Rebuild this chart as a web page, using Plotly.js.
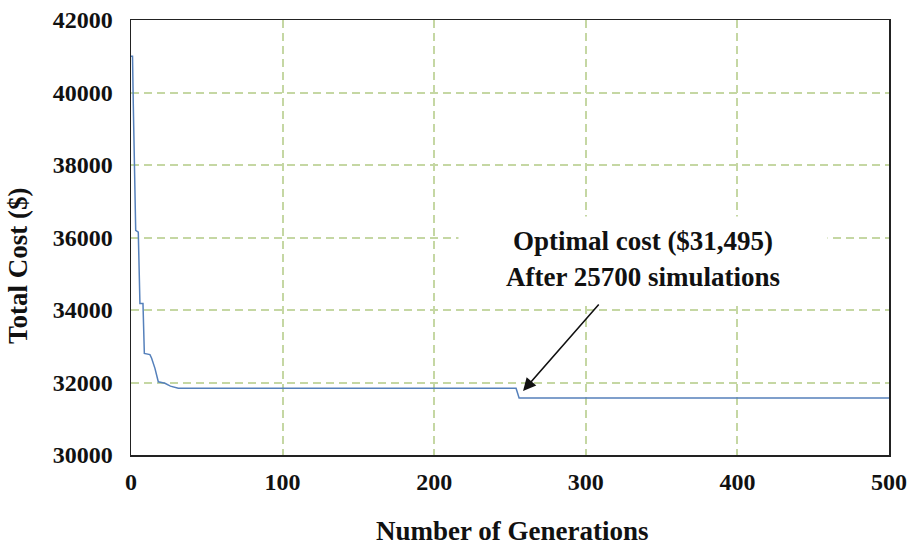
<!DOCTYPE html>
<html>
<head>
<meta charset="utf-8">
<script src="https://cdn.plot.ly/plotly-3.0.1.min.js"></script>
<style>html,body{margin:0;padding:0;background:#fff;}#chart{width:911px;height:545px;}</style>
</head>
<body>
<div id="chart"></div>
<script>
// Data
const generations = [0, 1, 1.5, 2, 2.5, 3.1, 4.8, 5.9, 7.9, 8.8, 12.5, 13.6, 15.8, 18, 22.4, 26, 31.2, 254, 256, 500];
const totalCost   = [41000, 41000, 39700, 38300, 37200, 36200, 36150, 34180, 34180, 32800, 32770, 32670, 32390, 32020, 31980, 31900, 31840, 31840, 31570, 31570];
const xTicks = [0, 100, 200, 300, 400, 500];
const yTicks = [30000, 32000, 34000, 36000, 38000, 40000, 42000];
const noteText = "<b>Optimal cost ($31,495)<br>After 25700 simulations</b>";
const xTitle = "<b>Number of Generations</b>";
const yTitle = "<b>Total Cost ($)</b>";

const serif = "Liberation Serif, Times New Roman, serif";
const gridCol = "#c5d7a3";

const trace = {
  x: generations, y: totalCost, type: "scatter", mode: "lines",
  line: {color: "#5580bb", width: 1.5}, hoverinfo: "skip"
};

const plotW = 911 - 131 - 22, plotH = 545 - 20 - 90;

const layout = {
  width: 911, height: 545,
  margin: {l: 131, r: 22, t: 20, b: 90},
  paper_bgcolor: "#fff", plot_bgcolor: "#fff",
  showlegend: false,
  font: {family: serif, color: "#000", size: 24},
  xaxis: {
    range: [0, 500], tickvals: xTicks, ticktext: xTicks.map(v => "<b>" + v + "</b>"),
    showgrid: true, gridcolor: gridCol, gridwidth: 2, griddash: "8px,5px",
    zeroline: false, showline: true, linecolor: "#222", linewidth: 1.5, mirror: true,
    ticks: "", ticklabelstandoff: 5,
    tickfont: {family: serif, size: 24, color: "#111"},
    title: {text: ""}
  },
  yaxis: {
    range: [30000, 42000], tickvals: yTicks, ticktext: yTicks.map(v => "<b>" + v + "</b>"),
    showgrid: true, gridcolor: gridCol, gridwidth: 2, griddash: "8px,5px",
    zeroline: false, showline: true, linecolor: "#222", linewidth: 1.5, mirror: true,
    ticks: "", ticklabelstandoff: 12,
    tickfont: {family: serif, size: 24, color: "#111"},
    title: {text: ""}
  },
  annotations: [
    {
      x: (18 - 131) / plotW, y: (545 - 90 - 266) / plotH, xref: "paper", yref: "paper",
      xanchor: "center", yanchor: "middle", text: yTitle, showarrow: false,
      textangle: -90, font: {family: serif, size: 27, color: "#111"}
    },
    {
      x: (512 - 131) / plotW, y: (545 - 90 - 531) / plotH, xref: "paper", yref: "paper",
      xanchor: "center", yanchor: "middle", text: xTitle, showarrow: false,
      font: {family: serif, size: 27, color: "#111"}
    },
    {
      x: 337.5, y: 35400, xref: "x", yref: "y", text: noteText, showarrow: false,
      font: {family: serif, size: 27, color: "#111"}, bgcolor: "#fff",
      width: 366, height: 82, align: "center"
    },
    {
      x: 258.6, y: 31766, ax: 309.4, ay: 34193, xref: "x", yref: "y", axref: "x", ayref: "y",
      text: "", showarrow: true, arrowhead: 2, arrowsize: 1.6, arrowwidth: 1.6, arrowcolor: "#111"
    }
  ]
};

Plotly.newPlot("chart", [trace], layout, {displayModeBar: false, staticPlot: true});
</script>
</body>
</html>
